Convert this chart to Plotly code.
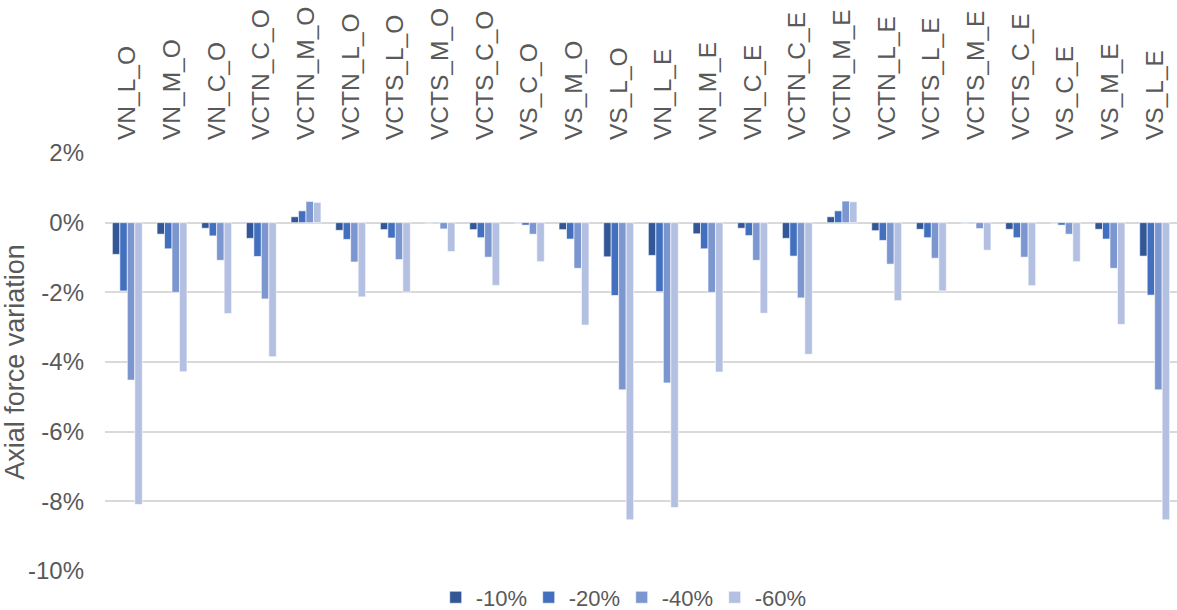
import plotly.graph_objects as go

# Load cases (category axis)
categories = [
    "VN_L_O", "VN_M_O", "VN_C_O", "VCTN_C_O", "VCTN_M_O", "VCTN_L_O",
    "VCTS_L_O", "VCTS_M_O", "VCTS_C_O", "VS_C_O", "VS_M_O", "VS_L_O",
    "VN_L_E", "VN_M_E", "VN_C_E", "VCTN_C_E", "VCTN_M_E", "VCTN_L_E",
    "VCTS_L_E", "VCTS_M_E", "VCTS_C_E", "VS_C_E", "VS_M_E", "VS_L_E",
]

# Axial force variation (%) for each stiffness reduction
red_10 = [-0.91, -0.33, -0.16, -0.45, 0.17, -0.22, -0.20, -0.01, -0.20, -0.01, -0.20, -0.98,
          -0.94, -0.32, -0.16, -0.45, 0.17, -0.23, -0.19, -0.01, -0.19, -0.01, -0.19, -0.96]
red_20 = [-1.96, -0.75, -0.38, -0.97, 0.34, -0.48, -0.44, -0.02, -0.43, -0.07, -0.47, -2.09,
          -1.98, -0.75, -0.37, -0.96, 0.34, -0.51, -0.43, -0.02, -0.43, -0.07, -0.47, -2.08]
red_40 = [-4.52, -2.00, -1.08, -2.19, 0.61, -1.13, -1.06, -0.18, -0.99, -0.33, -1.31, -4.80,
          -4.60, -2.00, -1.08, -2.16, 0.62, -1.19, -1.02, -0.17, -0.99, -0.33, -1.31, -4.80]
red_60 = [-8.09, -4.28, -2.61, -3.85, 0.58, -2.13, -1.99, -0.83, -1.80, -1.12, -2.94, -8.53,
          -8.18, -4.29, -2.60, -3.78, 0.60, -2.24, -1.96, -0.79, -1.81, -1.12, -2.92, -8.53]

series_names = ["-10%", "-20%", "-40%", "-60%"]
series_values = [red_10, red_20, red_40, red_60]
series_colors = ["#325696", "#4270BF", "#7C96D0", "#B4C0E2"]

y_tickvals = [2, 0, -2, -4, -6, -8, -10]
y_ticktext = ["2%", "0%", "-2%", "-4%", "-6%", "-8%", "-10%"]

FONT = "Liberation Sans, Arial, sans-serif"
GREY = "#595959"
GRID = "#D9D9D9"

fig = go.Figure()
for name, vals, col in zip(series_names, series_values, series_colors):
    fig.add_trace(go.Bar(
        x=categories, y=vals, name=name,
        marker=dict(color=col, line=dict(color="white", width=0.6)),
    ))

fig.update_layout(
    width=1177, height=610,
    margin=dict(l=105, r=0, t=153, b=39, autoexpand=False),
    paper_bgcolor="white", plot_bgcolor="white",
    barmode="group", bargap=0.33, bargroupgap=0,
    font=dict(family=FONT, size=24, color=GREY),
    legend=dict(
        orientation="h", yref="paper", xref="paper",
        x=0.482, xanchor="center", y=-0.013, yanchor="top",
        font=dict(size=22, color=GREY), itemwidth=30,
        entrywidth=48, entrywidthmode="pixels",
    ),
    xaxis=dict(
        side="top", tickangle=-90, showgrid=False, showline=False,
        ticks="", ticklabelstandoff=12, tickfont=dict(size=24.5, color=GREY),
    ),
    yaxis=dict(
        range=[-10, 2], tickvals=y_tickvals, ticktext=y_ticktext,
        showgrid=True, gridcolor=GRID, gridwidth=1.5,
        zeroline=True, zerolinecolor=GRID, zerolinewidth=1.5,
        showline=False, ticks="", ticklabelstandoff=20,
        tickfont=dict(size=24, color=GREY),
        title=dict(text="Axial force variation", font=dict(size=27, color=GREY), standoff=0),
    ),
)

fig.write_html("out.html")
